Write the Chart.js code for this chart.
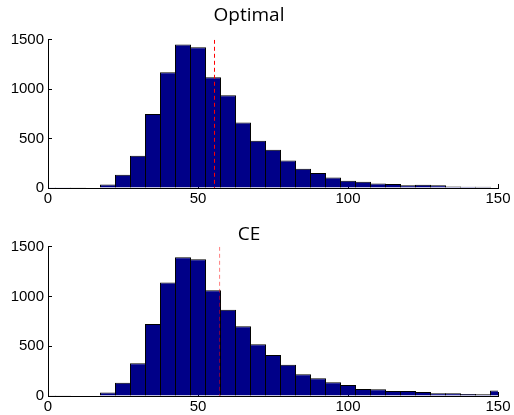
<!DOCTYPE html>
<html>
<head>
<meta charset="utf-8">
<script src="https://cdn.jsdelivr.net/npm/chart.js@4/dist/chart.umd.min.js"></script>
<style>
  html, body { margin: 0; padding: 0; background: #fff; }
  .panel { position: relative; width: 514px; }
  #wrapTop { height: 207px; }
  #wrapBottom { height: 208px; }
</style>
</head>
<body>
<div class="panel" id="wrapTop"><canvas id="chartOptimal"></canvas></div>
<div class="panel" id="wrapBottom"><canvas id="chartCE"></canvas></div>
<script>
// Centros de los bins del histograma (ancho 5)
const binCenters = [0, 5, 10, 15, 20, 25, 30, 35, 40, 45, 50, 55, 60, 65, 70, 75,
                    80, 85, 90, 95, 100, 105, 110, 115, 120, 125, 130, 135, 140, 145, 150];

const optimalCounts = [2, 2, 3, 4, 35, 135, 327, 750, 1172, 1452, 1425, 1122, 940, 664, 478, 387,
                       278, 195, 153, 106, 74, 62, 45, 40, 27, 33, 27, 14, 13, 12, 0];

const ceCounts = [3, 3, 4, 5, 36, 134, 329, 725, 1141, 1396, 1376, 1064, 866, 702, 520, 413,
                  315, 218, 178, 138, 110, 70, 67, 50, 50, 40, 27, 27, 20, 17, 55];

// Media de cada distribución (línea discontinua)
const optimalMean = 55.5;
const ceMean = 57.2;

const xTicks = [0, 50, 100, 150];
const yTicks = [0, 500, 1000, 1500];

const BAR_FILL = '#000088';
const TICK_FONT = { family: 'Liberation Sans', size: 15 };
const TITLE_FONT = { family: 'Open Sans', size: 19, weight: 'normal' };

const createHistogram = ({ canvasId, title, titlePadding, counts, mean, meanColor }) => {
    const canvas = document.getElementById(canvasId);
    if (!canvas) return null;

    const bars = binCenters.map((x, i) => ({ x, y: counts[i] }));
    const meanLine = [{ x: mean, y: yTicks[yTicks.length - 1] }, { x: mean, y: 0 }];

    return new Chart(canvas, {
        data: {
            datasets: [
                {
                    type: 'line',
                    data: meanLine,
                    borderColor: meanColor,
                    borderWidth: 1,
                    borderDash: [4, 3],
                    pointRadius: 0,
                    order: 0
                },
                {
                    type: 'bar',
                    data: bars,
                    backgroundColor: BAR_FILL,
                    borderColor: '#000',
                    borderWidth: 1,
                    barPercentage: 1.066,
                    categoryPercentage: 1,
                    clip: 0,
                    order: 1
                }
            ]
        },
        options: {
            responsive: true,
            maintainAspectRatio: false,
            animation: false,
            layout: { padding: { left: 0, right: 16, top: 0, bottom: 0 } },
            plugins: {
                legend: { display: false },
                tooltip: { enabled: false },
                title: {
                    display: true,
                    text: title,
                    color: '#000',
                    font: TITLE_FONT,
                    padding: titlePadding
                }
            },
            scales: {
                x: {
                    type: 'linear',
                    offset: false,
                    bounds: 'ticks',
                    min: 0,
                    max: 150,
                    afterFit: (scale) => {
                        // el margen lo fija layout.padding, no la etiqueta "150"
                        scale.height = 19;
                        scale.paddingLeft = 0;
                        scale.paddingRight = 0;
                    },
                    afterBuildTicks: (scale) => { scale.ticks = xTicks.map(v => ({ value: v })); },
                    border: { display: true, color: '#000', width: 1 },
                    grid: { display: true, offset: false, drawOnChartArea: false, drawTicks: true, tickLength: -4, color: '#000' },
                    ticks: { color: '#000', font: TICK_FONT, padding: 6, maxRotation: 0, callback: (v) => String(v) }
                },
                y: {
                    min: 0,
                    max: 1500,
                    afterFit: (scale) => { scale.width = 48; },
                    afterBuildTicks: (scale) => { scale.ticks = yTicks.map(v => ({ value: v })); },
                    border: { display: true, color: '#000', width: 1 },
                    grid: { display: true, drawOnChartArea: false, drawTicks: true, tickLength: -4, color: '#000' },
                    ticks: { color: '#000', font: TICK_FONT, padding: 8, callback: (v) => String(v) }
                }
            }
        }
    });
};

createHistogram({
    canvasId: 'chartOptimal',
    title: 'Optimal',
    titlePadding: { top: 4, bottom: 13 },
    counts: optimalCounts,
    mean: optimalMean,
    meanColor: '#ff0000'
});

createHistogram({
    canvasId: 'chartCE',
    title: 'CE',
    titlePadding: { top: 16, bottom: 1 },
    counts: ceCounts,
    mean: ceMean,
    meanColor: 'rgba(255, 0, 0, 0.5)'
});
</script>
</body>
</html>
